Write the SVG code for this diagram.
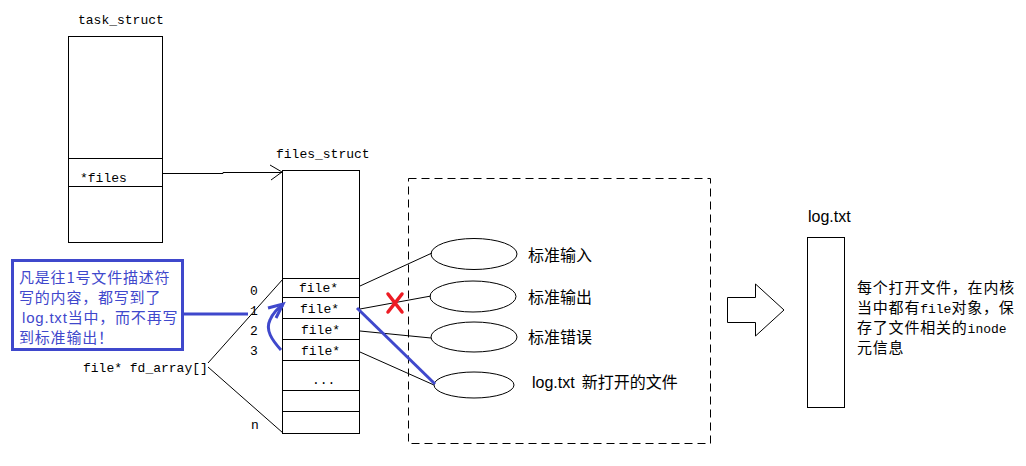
<svg xmlns="http://www.w3.org/2000/svg" width="1026" height="466" viewBox="0 0 1026 466">
<defs>
<style>
.ln{fill:none;stroke:#000;stroke-width:1}
.mono{font-family:"Liberation Mono","DejaVu Sans Mono",monospace;font-size:13px;fill:#000}
.cn{font-family:"Noto Sans CJK SC","Noto Sans",sans-serif;font-size:16px;fill:#000}
.cs{font-family:"Noto Sans CJK SC","Noto Sans",sans-serif;font-size:15px;letter-spacing:0.8px;fill:#000}
.blue{fill:none;stroke:#3F48CC;stroke-width:3}
.bt{font-family:"Noto Sans CJK SC","Noto Sans",sans-serif;font-size:15px;letter-spacing:0.8px;fill:#3F48CC}
.ar{font-family:"Liberation Sans","Noto Sans CJK SC",sans-serif}
</style>
</defs>
<rect width="1026" height="466" fill="#fff"/>

<g id="task_struct">
<text class="mono" x="78" y="24">task_struct</text>
<rect class="ln" x="68.5" y="36.5" width="94" height="206"/>
<line class="ln" x1="68" y1="158.5" x2="162" y2="158.5"/>
<line class="ln" x1="68" y1="186.5" x2="162" y2="186.5"/>
<text class="mono" x="80" y="182">*files</text>
</g>

<g id="files_struct">
<text class="mono" x="276" y="158">files_struct</text>
<rect class="ln" x="282.5" y="170.5" width="77" height="263"/>
<line class="ln" x1="282" y1="278.5" x2="359" y2="278.5"/>
<line class="ln" x1="282" y1="297.5" x2="359" y2="297.5"/>
<line class="ln" x1="282" y1="318.5" x2="359" y2="318.5"/>
<line class="ln" x1="282" y1="339.5" x2="359" y2="339.5"/>
<line class="ln" x1="282" y1="360.5" x2="359" y2="360.5"/>
<line class="ln" x1="282" y1="390.5" x2="359" y2="390.5"/>
<line class="ln" x1="282" y1="411.5" x2="359" y2="411.5"/>
<text class="mono" x="299" y="292">file*</text>
<text class="mono" x="300" y="313">file*</text>
<text class="mono" x="301" y="334">file*</text>
<text class="mono" x="301" y="355">file*</text>
<text class="mono" x="312" y="384">...</text>
<text class="mono" x="250" y="295">0</text>
<text class="mono" x="250" y="315">1</text>
<text class="mono" x="250" y="335">2</text>
<text class="mono" x="250" y="355">3</text>
<text class="mono" x="251" y="429">n</text>
<text class="mono" x="83" y="372">file* fd_array[]</text>
</g>

<g id="open_files">
<rect class="ln" x="408.5" y="178.5" width="302" height="265" stroke-dasharray="8,5"/>
<ellipse class="ln" cx="474" cy="254" rx="43" ry="15.5"/>
<ellipse class="ln" cx="473" cy="296.5" rx="43" ry="15.5"/>
<ellipse class="ln" cx="474" cy="337" rx="43" ry="15"/>
<ellipse class="ln" cx="474" cy="385" rx="40" ry="13"/>
<text class="cn" x="528" y="261">标准输入</text>
<text class="cn" x="528" y="303">标准输出</text>
<text class="cn" x="528" y="343">标准错误</text>
<text class="cn" x="532" y="388" xml:space="preserve"><tspan class="ar">log.txt</tspan>  新打开的文件</text>
</g>

<g id="logtxt">
<text class="cn ar" x="808" y="222">log.txt</text>
<rect class="ln" x="807.5" y="237.5" width="37" height="170"/>
<text class="cs" x="857" y="293">每个打开文件，在内核</text>
<text class="cs" x="857" y="313">当中都有<tspan class="mono" font-size="14" letter-spacing="0">file</tspan>对象，保</text>
<text class="cs" x="857" y="333">存了文件相关的<tspan class="mono" font-size="14" letter-spacing="0">inode</tspan></text>
<text class="cs" x="857" y="353">元信息</text>
</g>

<g id="big_arrow">
<polygon class="ln" points="727.5,297.5 755.5,297.5 755.5,284 784,310 755.5,336 755.5,322.5 727.5,322.5"/>
</g>

<g id="callout">
<rect class="blue" x="12.5" y="260.5" width="170" height="89"/>
<text class="bt" x="19" y="283">凡是往1号文件描述符</text>
<text class="bt" x="19" y="303">写的内容，都写到了</text>
<text class="bt" x="22" y="323"><tspan class="ar">log.txt</tspan>当中，而不再写</text>
<text class="bt" x="19" y="343">到标准输出！</text>
</g>

<g id="connectors">
<polyline class="ln" points="162,173.5 223,173.5 223,172.5 282,172.5"/>
<polyline class="ln" points="270,165 282,172 271,180"/>
<line class="ln" x1="208" y1="363" x2="283" y2="279"/>
<line class="ln" x1="208" y1="367" x2="283" y2="433"/>
<line class="ln" x1="360" y1="286" x2="432" y2="253"/>
<line class="ln" x1="360" y1="309" x2="431" y2="296"/>
<line class="ln" x1="360" y1="331" x2="431" y2="338"/>
<line class="ln" x1="360" y1="352" x2="434" y2="385"/>
<line class="blue" x1="183" y1="314" x2="248" y2="314"/>
<path class="blue" d="M281,350 C272,340 265,330 270,320 C273,313 278,308 283,305"/>
<polyline class="blue" points="268,308 283,304 276,318"/>
<line class="blue" x1="357" y1="308" x2="435" y2="384"/>
<g stroke="#ED1C24" stroke-width="3.5" stroke-linecap="round">
<line x1="388" y1="294" x2="402" y2="312"/>
<line x1="402" y1="294" x2="388" y2="312"/>
</g>
</g>
</svg>
